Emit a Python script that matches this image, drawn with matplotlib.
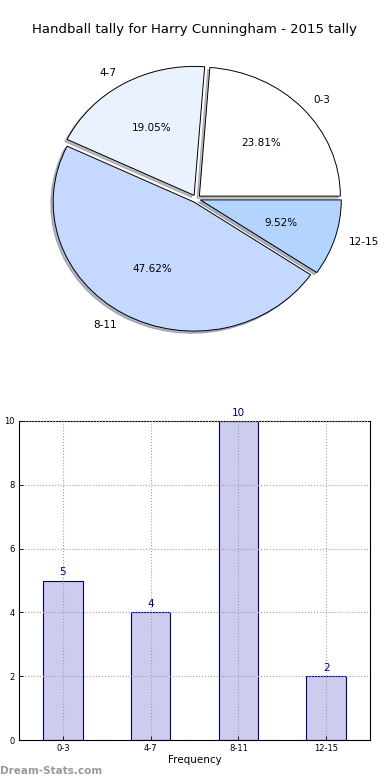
## import packages
import matplotlib
matplotlib.use('Agg')
import matplotlib.pyplot as plt

## data
categories = ['0-3', '4-7', '8-11', '12-15']
counts     = [5, 4, 10, 2]
pie_colors = ['#ffffff', '#eaf1ff', '#c5d8ff', '#b3d4ff']
yticks     = [0, 2, 4, 6, 8, 10]

fig = plt.figure(figsize=(3.9, 7.8), dpi=100)
fig.text(0.5, 0.962, 'Handball tally for Harry Cunningham - 2015 tally',
         ha='center', va='center', fontsize=9.5)

## pie (old style, not forced to a circle)
ax1 = fig.add_axes([20/390, 420/780, 352.5/390, 322.5/780])
ax1.pie(counts, labels=categories, colors=pie_colors, autopct='%.2f%%',
        explode=[0.03]*4, shadow=dict(ox=-0.012, oy=-0.012, shade=0.5),
        startangle=0, counterclock=True,
        wedgeprops=dict(edgecolor='black', linewidth=0.7),
        textprops=dict(fontsize=7.5))
ax1.set_xlim(-1.25, 1.25)
ax1.set_ylim(-1.25, 1.25)
ax1.set_aspect('auto')

## bar chart
ax2 = fig.add_axes([19/390, 40/780, 351/390, 319/780])
x = range(len(categories))
ax2.bar(x, counts, width=0.45, color='#ccccee', edgecolor='#000080',
        linewidth=0.8, zorder=2)
for xi, c in zip(x, counts):
    ax2.text(xi, c + 0.1, str(c), ha='center', va='bottom', color='#000080',
             fontsize=7.5)
ax2.set_xlim(-0.5, 3.5)
ax2.set_ylim(0, 10)
ax2.set_xticks(list(x))
ax2.set_xticklabels(categories, fontsize=6)
ax2.set_yticks(yticks)
ax2.set_yticklabels([str(t) for t in yticks], fontsize=6)
ax2.tick_params(length=3, width=0.6, direction='in', pad=3)
ax2.set_axisbelow(False)
ax2.grid(True, linestyle=':', color='#a0a0a0', linewidth=0.8, zorder=3)
ax2.set_xlabel('Frequency', fontsize=7.5, labelpad=1)
ax2.set_ylabel('Goals / Handballs', fontsize=7.5, labelpad=6)
for s in ax2.spines.values():
    s.set_linewidth(0.8)

fig.text(0.0, 0.012, 'Dream-Stats.com', ha='left', va='center',
         fontsize=7.5, color='#999999', fontweight='bold')

plt.savefig('out.png', dpi=100)
